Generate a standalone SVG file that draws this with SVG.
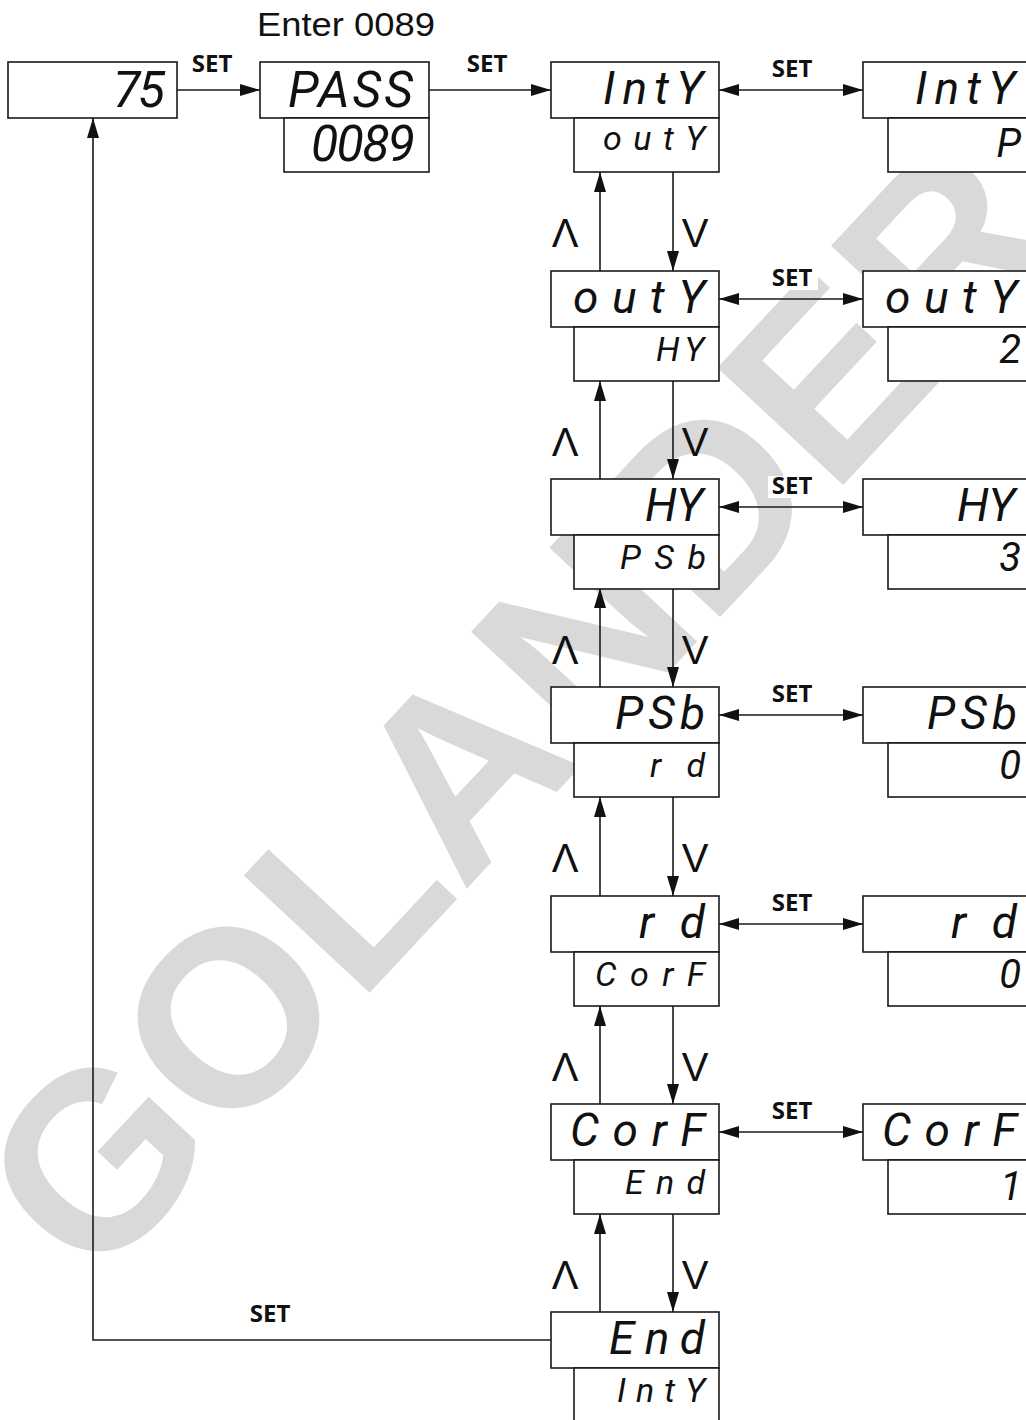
<svg xmlns="http://www.w3.org/2000/svg" width="1026" height="1420" viewBox="0 0 1026 1420">
<style>
.box{fill:#fff;stroke:#1a1a1a;stroke-width:1.6}
.ln{fill:none;stroke:#1a1a1a;stroke-width:1.6}
.seg{font-family:Roboto,"DejaVu Sans",sans-serif;font-style:italic;font-weight:400;fill:#111;text-anchor:end}
.m{font-size:46px}
.s{font-size:34px}
.big{font-size:50px}
.v{font-size:40px}
.set{font-family:"Open Sans","Liberation Sans",sans-serif;font-weight:bold;font-size:24px;fill:#111;text-anchor:middle}
.ud{font-family:"Liberation Sans",Arial,sans-serif;font-size:40px;fill:#111;text-anchor:middle}
.wm{font-family:"Liberation Sans",Arial,sans-serif;font-weight:bold;font-size:250px;fill:#d9d9d9;text-anchor:middle}
.lb{fill:#fff}
</style>
<defs>
<marker id="ah" markerUnits="userSpaceOnUse" markerWidth="20" markerHeight="12" refX="20" refY="6" orient="auto-start-reverse">
<path d="M0,0 L20,6 L0,12 z" fill="#111"/>
</marker>
</defs>
<rect width="1026" height="1420" fill="#fff"/>
<text class="wm" transform="translate(515,705) rotate(-47)" y="90">GOLANDER</text>

<text x="346" y="36" font-family="Liberation Sans, Arial, sans-serif" font-size="33" text-anchor="middle" textLength="178" lengthAdjust="spacingAndGlyphs" fill="#111">Enter 0089</text>

<g id="connectors">
<path class="ln" d="M177,90 H260" marker-end="url(#ah)"/>
<path class="ln" d="M429,90 H551" marker-end="url(#ah)"/>
<path class="ln" d="M551,1340 H93 V118" marker-end="url(#ah)"/>
<path class="ln" d="M719,90 H863" marker-start="url(#ah)" marker-end="url(#ah)"/>
<path class="ln" d="M719,299 H863" marker-start="url(#ah)" marker-end="url(#ah)"/>
<path class="ln" d="M719,507 H863" marker-start="url(#ah)" marker-end="url(#ah)"/>
<path class="ln" d="M719,715 H863" marker-start="url(#ah)" marker-end="url(#ah)"/>
<path class="ln" d="M719,924 H863" marker-start="url(#ah)" marker-end="url(#ah)"/>
<path class="ln" d="M719,1132 H863" marker-start="url(#ah)" marker-end="url(#ah)"/>
<path class="ln" d="M600,271 V172" marker-end="url(#ah)"/>
<path class="ln" d="M673,172 V271" marker-end="url(#ah)"/>
<path class="ln" d="M600,479 V381" marker-end="url(#ah)"/>
<path class="ln" d="M673,381 V479" marker-end="url(#ah)"/>
<path class="ln" d="M600,687 V588" marker-end="url(#ah)"/>
<path class="ln" d="M673,588 V687" marker-end="url(#ah)"/>
<path class="ln" d="M600,896 V797" marker-end="url(#ah)"/>
<path class="ln" d="M673,797 V896" marker-end="url(#ah)"/>
<path class="ln" d="M600,1104 V1006" marker-end="url(#ah)"/>
<path class="ln" d="M673,1006 V1104" marker-end="url(#ah)"/>
<path class="ln" d="M600,1312 V1214" marker-end="url(#ah)"/>
<path class="ln" d="M673,1214 V1312" marker-end="url(#ah)"/>
<text class="set" x="212" y="72">SET</text>
<text class="set" x="487" y="72">SET</text>
<text class="set" x="270" y="1322">SET</text>
<rect class="lb" x="768" y="60" width="50" height="22"/><text class="set" x="792" y="77">SET</text>
<rect class="lb" x="768" y="268" width="50" height="22"/><text class="set" x="792" y="286">SET</text>
<rect class="lb" x="768" y="476" width="50" height="22"/><text class="set" x="792" y="494">SET</text>
<rect class="lb" x="768" y="684" width="50" height="22"/><text class="set" x="792" y="702">SET</text>
<rect class="lb" x="768" y="893" width="50" height="22"/><text class="set" x="792" y="911">SET</text>
<rect class="lb" x="768" y="1101" width="50" height="22"/><text class="set" x="792" y="1119">SET</text>
<text class="ud" x="565" y="247">Λ</text><text class="ud" x="695" y="247">V</text>
<text class="ud" x="565" y="456">Λ</text><text class="ud" x="695" y="456">V</text>
<text class="ud" x="565" y="664">Λ</text><text class="ud" x="695" y="664">V</text>
<text class="ud" x="565" y="872">Λ</text><text class="ud" x="695" y="872">V</text>
<text class="ud" x="565" y="1081">Λ</text><text class="ud" x="695" y="1081">V</text>
<text class="ud" x="565" y="1289">Λ</text><text class="ud" x="695" y="1289">V</text>
</g>

<g id="n-75">
<rect class="box" x="8" y="62" width="169" height="56"/>
<text class="seg big" x="165" y="107" textLength="52">75</text>
</g>
<g id="n-pass">
<rect class="box" x="260" y="62" width="169" height="56"/>
<rect class="box" x="284" y="118" width="145" height="54"/>
<text class="seg big" x="413" y="107" textLength="125">PASS</text>
<text class="seg big" x="415" y="161" font-size="48" textLength="104">0089</text>
</g>

<g id="n-inty">
<rect class="box" x="551" y="62" width="168" height="56"/>
<rect class="box" x="574" y="118" width="145" height="54"/>
<text class="seg m" x="703" y="104" textLength="100">IntY</text>
<text class="seg s" x="705" y="150" textLength="102">outY</text>
</g>
<g id="n-inty-val">
<rect class="box" x="863" y="62" width="175" height="56"/>
<rect class="box" x="888" y="118" width="150" height="54"/>
<text class="seg m" x="1015" y="104" textLength="100">IntY</text>
<text class="seg v" x="1021" y="157">P</text>
</g>

<g id="n-outy">
<rect class="box" x="551" y="271" width="168" height="56"/>
<rect class="box" x="574" y="327" width="145" height="54"/>
<text class="seg m" x="705" y="313" textLength="132">outY</text>
<text class="seg s" x="704" y="361" textLength="48">HY</text>
</g>
<g id="n-outy-val">
<rect class="box" x="863" y="271" width="175" height="56"/>
<rect class="box" x="888" y="327" width="150" height="54"/>
<text class="seg m" x="1017" y="313" textLength="132">outY</text>
<text class="seg v" x="1021" y="363">2</text>
</g>

<g id="n-hy">
<rect class="box" x="551" y="479" width="168" height="56"/>
<rect class="box" x="574" y="535" width="145" height="54"/>
<text class="seg m" x="703" y="521">HY</text>
<text class="seg s" x="706" y="569" textLength="86">PSb</text>
</g>
<g id="n-hy-val">
<rect class="box" x="863" y="479" width="175" height="56"/>
<rect class="box" x="888" y="535" width="150" height="54"/>
<text class="seg m" x="1015" y="521">HY</text>
<text class="seg v" x="1021" y="571">3</text>
</g>

<g id="n-psb">
<rect class="box" x="551" y="687" width="168" height="56"/>
<rect class="box" x="574" y="743" width="145" height="54"/>
<text class="seg m" x="705" y="729" textLength="90">PSb</text>
<text class="seg s" x="705" y="777" textLength="55">rd</text>
</g>
<g id="n-psb-val">
<rect class="box" x="863" y="687" width="175" height="56"/>
<rect class="box" x="888" y="743" width="150" height="54"/>
<text class="seg m" x="1017" y="729" textLength="90">PSb</text>
<text class="seg v" x="1021" y="779">0</text>
</g>

<g id="n-rd">
<rect class="box" x="551" y="896" width="168" height="56"/>
<rect class="box" x="574" y="952" width="145" height="54"/>
<text class="seg m" x="705" y="938" textLength="66">rd</text>
<text class="seg s" x="705" y="986" textLength="110">CorF</text>
</g>
<g id="n-rd-val">
<rect class="box" x="863" y="896" width="175" height="56"/>
<rect class="box" x="888" y="952" width="150" height="54"/>
<text class="seg m" x="1017" y="938" textLength="66">rd</text>
<text class="seg v" x="1021" y="988">0</text>
</g>

<g id="n-corf">
<rect class="box" x="551" y="1104" width="168" height="56"/>
<rect class="box" x="574" y="1160" width="145" height="54"/>
<text class="seg m" x="705" y="1146" textLength="135">CorF</text>
<text class="seg s" x="705" y="1194" textLength="80">End</text>
</g>
<g id="n-corf-val">
<rect class="box" x="863" y="1104" width="175" height="56"/>
<rect class="box" x="888" y="1160" width="150" height="54"/>
<text class="seg m" x="1017" y="1146" textLength="135">CorF</text>
<text class="seg v" x="1022" y="1200">1</text>
</g>

<g id="n-end">
<rect class="box" x="551" y="1312" width="168" height="56"/>
<rect class="box" x="574" y="1368" width="145" height="60"/>
<text class="seg m" x="705" y="1354" textLength="96">End</text>
<text class="seg s" x="705" y="1402" textLength="88">IntY</text>
</g>
</svg>
